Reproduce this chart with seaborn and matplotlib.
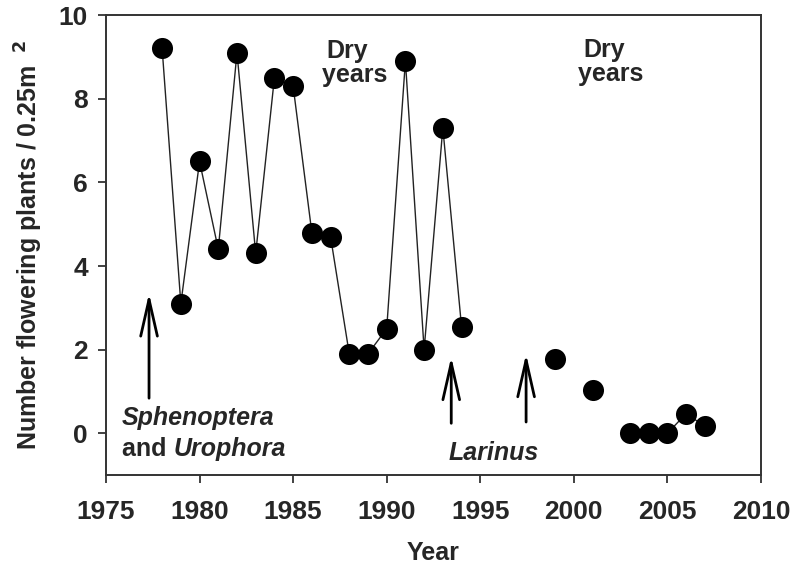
import matplotlib
matplotlib.use("Agg")
import matplotlib.pyplot as plt
import seaborn as sns
import pandas as pd

# Flowering plant counts per survey year
years = [1978, 1979, 1980, 1981, 1982, 1983, 1984, 1985, 1986, 1987, 1988,
         1989, 1990, 1991, 1992, 1993, 1994, 1999, 2001, 2003, 2004, 2005,
         2006, 2007]
counts = [9.2, 3.1, 6.5, 4.4, 9.1, 4.3, 8.5, 8.3, 4.8, 4.7, 1.9,
          1.9, 2.5, 8.9, 2.0, 7.3, 2.55, 1.78, 1.03, 0.0, 0.0, 0.0,
          0.47, 0.17]
# consecutive survey runs joined by a line
segments = [1] * 17 + [2, 3] + [4] * 5

x_ticks = [1975, 1980, 1985, 1990, 1995, 2000, 2005, 2010]
y_ticks = [0, 2, 4, 6, 8, 10]

df = pd.DataFrame({"year": years, "count": counts, "seg": segments})

sns.set_theme(style="white")
plt.rcParams["font.family"] = ["Liberation Sans", "DejaVu Sans"]
plt.rcParams["font.weight"] = "bold"

fig = plt.figure(figsize=(7.91, 5.67), dpi=100)
ax = fig.add_axes([0.134, 0.162, 0.828, 0.8115])

sns.lineplot(data=df, x="year", y="count", units="seg", estimator=None,
             color="#222222", linewidth=1.0, ax=ax, legend=False)
sns.scatterplot(data=df, x="year", y="count", color="black", s=230,
                edgecolor="black", linewidth=0, ax=ax, zorder=3, legend=False)

ax.set_xlim(1975, 2010)
ax.set_ylim(-1, 10)
ax.set_xticks(x_ticks)
ax.set_yticks(y_ticks)
ax.tick_params(axis="both", which="major", direction="out", length=6,
               width=1.3, color="#333333", labelsize=19, pad=7,
               bottom=True, left=True, top=False, right=False)
ax.tick_params(axis="x", pad=12)
for lbl in ax.get_xticklabels() + ax.get_yticklabels():
    lbl.set_fontweight("bold")
for sp in ax.spines.values():
    sp.set_color("#333333")
    sp.set_linewidth(1.4)

ax.set_xlabel("Year", fontsize=18, fontweight="bold", labelpad=12)
ax.set_ylabel("Number flowering plants / 0.25m$^{\\ \\ 2}$", fontsize=18,
              fontweight="bold", labelpad=10)

# Dry-year annotations
ax.text(1987.9, 8.85, "Dry\n  years", fontsize=18, fontweight="bold",
        ha="center", va="center", linespacing=1.0)
ax.text(2001.6, 8.87, "Dry\n  years", fontsize=18, fontweight="bold",
        ha="center", va="center", linespacing=1.0)

# Release arrows
arrow_kw = dict(arrowstyle="->,head_length=2.2,head_width=0.5",
                color="black", lw=2.0, shrinkA=0, shrinkB=0)
ax.annotate("", xy=(1977.3, 3.35), xytext=(1977.3, 0.84), arrowprops=arrow_kw)
ax.annotate("", xy=(1993.45, 1.83), xytext=(1993.45, 0.24), arrowprops=arrow_kw)
ax.annotate("", xy=(1997.45, 1.9), xytext=(1997.45, 0.27), arrowprops=arrow_kw)

ax.text(1975.85, 0.36, "Sphenoptera", fontsize=18, fontweight="bold",
        style="italic", ha="left", va="center")
ax.text(1975.85, -0.38, "and ", fontsize=18, fontweight="bold",
        ha="left", va="center")
ax.text(1978.6, -0.38, "Urophora", fontsize=18, fontweight="bold",
        style="italic", ha="left", va="center")
ax.text(1995.7, -0.48, "Larinus", fontsize=18, fontweight="bold",
        style="italic", ha="center", va="center")

fig.savefig("out.png", dpi=100)
